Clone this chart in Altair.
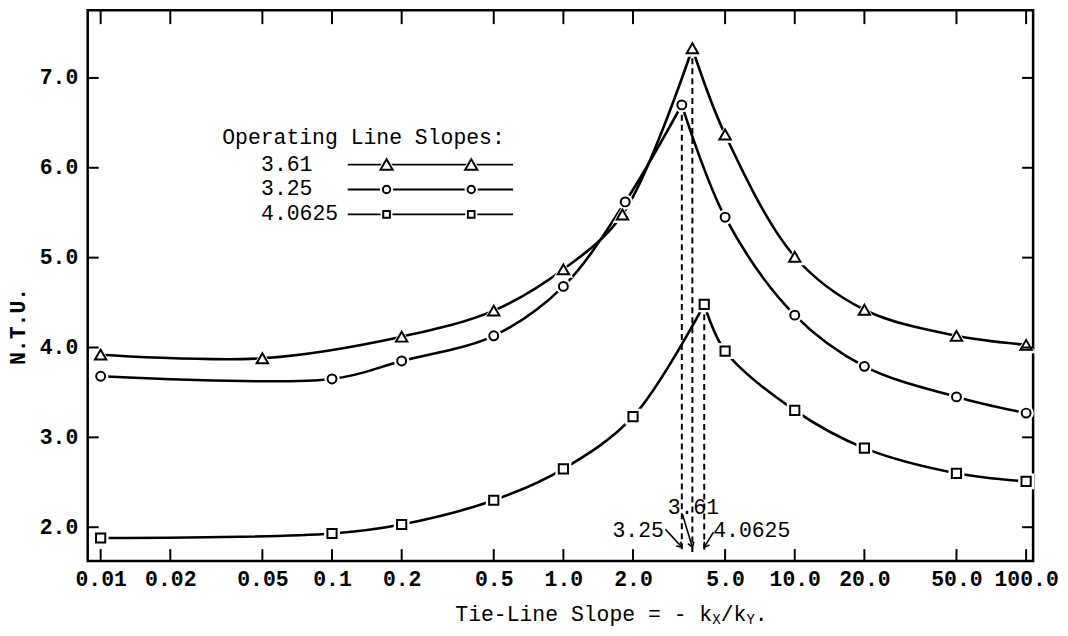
import altair as alt
import pandas as pd

# ---------------- data ----------------
series_names = ["3.61", "3.25", "4.0625"]
peak_x = [3.61, 3.25, 4.0625]

x_tri = [0.01, 0.05, 0.2, 0.5, 1.0, 1.8, 3.61, 5.0, 10.0, 20.0, 50.0, 100.0]
y_tri = [3.92, 3.88, 4.12, 4.41, 4.87, 5.48, 7.33, 6.37, 5.01, 4.42, 4.13, 4.03]

x_cir = [0.01, 0.1, 0.2, 0.5, 1.0, 1.85, 3.25, 5.0, 10.0, 20.0, 50.0, 100.0]
y_cir = [3.68, 3.65, 3.85, 4.13, 4.68, 5.62, 6.70, 5.45, 4.36, 3.79, 3.45, 3.27]

x_sq = [0.01, 0.1, 0.2, 0.5, 1.0, 2.0, 4.0625, 5.0, 10.0, 20.0, 50.0, 100.0]
y_sq = [1.88, 1.93, 2.03, 2.30, 2.65, 3.23, 4.48, 3.96, 3.30, 2.88, 2.60, 2.51]

x_ticks = [0.01, 0.02, 0.05, 0.1, 0.2, 0.5, 1, 2, 5, 10, 20, 50, 100]
y_ticks = [2, 3, 4, 5, 6, 7]

# annotation arrows / labels near the bottom (data coordinates)
arrow_from_x = [3.27, 2.76, 4.45]
arrow_from_y = [2.144, 1.978, 1.944]
arrow_to_y = [1.778, 1.778, 1.778]
label_y = [2.21, 1.956, 1.956]

# ---------------- tables ----------------
xs_all = [x_tri, x_cir, x_sq]
ys_all = [y_tri, y_cir, y_sq]
rows, pts = [], []
for name, xs_, ys_, pk in zip(series_names, xs_all, ys_all, peak_x):
    for xv, yv in zip(xs_, ys_):
        pts.append(dict(series=name, x=xv, y=yv))
        if xv <= pk:
            rows.append(dict(series=name, seg=name + "L", x=xv, y=yv))
        if xv >= pk:
            rows.append(dict(series=name, seg=name + "R", x=xv, y=yv))
lines_df = pd.DataFrame(rows)
pts_df = pd.DataFrame(pts)
peak_y = [ys_[xs_.index(pk)] for xs_, ys_, pk in zip(xs_all, ys_all, peak_x)]
dash_df = pd.DataFrame({"x": peak_x, "y": peak_y})
arrow_df = pd.DataFrame({"x": arrow_from_x, "y": arrow_from_y, "x2": peak_x, "y2": arrow_to_y,
                         "ang": [342, 315, 35]})

# ---------------- styling ----------------
W, H = 949, 553
FONT = "Liberation Mono"
FS = 21.5
xscale = alt.Scale(type="log", domain=[0.00879, 107.2], nice=False)
yscale = alt.Scale(domain=[1.623, 7.754], nice=False, zero=False)

x_axis = alt.Axis(values=x_ticks, title=None, domain=False, ticks=False, tickSize=0, grid=False,
                  labelExpr="datum.value >= 1 ? format(datum.value, '.1f') : format(datum.value, '~g')",
                  labelFont=FONT, labelFontSize=FS, labelFontWeight="bold", labelColor="black",
                  labelPadding=8, labelOverlap=False, labelFlush=False)
y_axis = alt.Axis(values=y_ticks, format=".1f", title="N.T.U.", titleAngle=270, titleX=-69, titleY=317,
                  titleFont=FONT, titleFontSize=FS, titleFontWeight="bold", titleColor="black",
                  titleAlign="center", titleBaseline="middle",
                  domain=False, ticks=False, tickSize=0, grid=False,
                  labelFont=FONT, labelFontSize=FS, labelFontWeight="bold", labelColor="black",
                  labelPadding=10)

X = alt.X("x:Q", scale=xscale, axis=x_axis)
Y = alt.Y("y:Q", scale=yscale, axis=y_axis)

lines = alt.Chart(lines_df).mark_line(interpolate="catmull-rom", color="black", strokeWidth=2.6).encode(
    x=X, y=Y, detail="seg:N", order="x:Q")

dashes = alt.Chart(dash_df).mark_rule(color="black", strokeWidth=2, strokeDash=[6, 4]).encode(
    x=X, y=Y, y2=alt.value(H - 9))

marker_shapes = ["triangle-up", "circle", "square"]
marker_sizes = [130, 80, 85]
point_layers = []
for name, shp, sz in zip(series_names, marker_shapes, marker_sizes):
    sub = pts_df[pts_df.series == name]
    point_layers.append(alt.Chart(sub).mark_point(shape=shp, filled=True, color="white", size=sz * 3.0,
                                                  opacity=1).encode(x=X, y=Y))
for name, shp, sz in zip(series_names, marker_shapes, marker_sizes):
    sub = pts_df[pts_df.series == name]
    point_layers.append(alt.Chart(sub).mark_point(shape=shp, filled=True, fill="white", stroke="black",
                                                  strokeWidth=2, size=sz, opacity=1).encode(x=X, y=Y))

# inward ticks on all four sides
tx = pd.DataFrame({"x": x_ticks})
ty = pd.DataFrame({"y": y_ticks})
rule = dict(color="black", strokeWidth=2)
t_bottom = alt.Chart(tx).mark_rule(**rule).encode(x=X, y=alt.value(H), y2=alt.value(H - 12))
t_top = alt.Chart(tx).mark_rule(**rule).encode(x=X, y=alt.value(0), y2=alt.value(14))
t_left = alt.Chart(ty).mark_rule(**rule).encode(y=Y, x=alt.value(0), x2=alt.value(11))
t_right = alt.Chart(ty).mark_rule(**rule).encode(y=Y, x=alt.value(W), x2=alt.value(W - 11))

# annotation arrows and labels
arrows = alt.Chart(arrow_df).mark_rule(color="black", strokeWidth=1.6).encode(
    x=X, y=Y, x2="x2:Q", y2="y2:Q")
heads = alt.Chart(arrow_df).mark_point(shape="M-1,-1.5L0,0L1,-1.5", filled=False, color="black",
                                       strokeWidth=1.6, size=40, opacity=1).encode(
    x=alt.X("x2:Q", scale=xscale, axis=x_axis), y=alt.Y("y2:Q", scale=yscale, axis=y_axis),
    angle=alt.Angle("ang:Q", scale=None))

ann = pd.DataFrame({"label": series_names, "x": peak_x, "y": label_y})
tstyle = dict(font=FONT, fontSize=FS, color="black", baseline="middle")
ann_361 = alt.Chart(ann.iloc[[0]]).mark_text(align="center", dx=1, **tstyle).encode(x=X, y=Y, text="label:N")
ann_325 = alt.Chart(ann.iloc[[1]]).mark_text(align="right", dx=-18, **tstyle).encode(x=X, y=Y, text="label:N")
ann_406 = alt.Chart(ann.iloc[[2]]).mark_text(align="left", dx=9, **tstyle).encode(x=X, y=Y, text="label:N")

one = pd.DataFrame({"k": [0]})


def txt(s, x, y, size=FS, align="left"):
    return alt.Chart(one).mark_text(text=s, font=FONT, fontSize=size, align=align, baseline="middle",
                                    color="black").encode(x=alt.value(x), y=alt.value(y))


# x-axis title with subscripts
ty0 = 607
cw = 0.6 * FS
cws = 0.6 * 14
x0 = 369
title_parts = [
    txt("Tie-Line Slope = - k", x0, ty0),
    txt("X", x0 + 20 * cw, ty0 + 5, size=14),
    txt("/k", x0 + 20 * cw + cws, ty0),
    txt("Y", x0 + 22 * cw + cws, ty0 + 5, size=14),
    txt(".", x0 + 22 * cw + 2 * cws, ty0),
]

# legend block
leg_y = [155, 180, 205]
legend_parts = [txt("Operating Line Slopes:", 135, 128)]
leg_sizes = [150, 55, 45]
for name, ly, shp, sz in zip(series_names, leg_y, marker_shapes, leg_sizes):
    legend_parts.append(txt(name, 174, ly))
    legend_parts.append(alt.Chart(one).mark_rule(color="black", strokeWidth=1.8).encode(
        x=alt.value(261), x2=alt.value(427), y=alt.value(ly)))
    for mx in (300, 385):
        legend_parts.append(alt.Chart(one).mark_point(shape=shp, filled=True, color="white", size=sz * 3.2,
                                                      opacity=1).encode(x=alt.value(mx), y=alt.value(ly)))
        legend_parts.append(alt.Chart(one).mark_point(shape=shp, filled=True, fill="white", stroke="black",
                                                      strokeWidth=2, size=sz, opacity=1).encode(
            x=alt.value(mx), y=alt.value(ly)))

chart = alt.layer(
    lines, dashes, *point_layers, t_bottom, t_top, t_left, t_right,
    arrows, heads, ann_361, ann_325, ann_406, *title_parts, *legend_parts
).properties(
    width=W, height=H,
    padding={"left": 80, "top": 1, "right": 27, "bottom": 66},
    autosize=alt.AutoSizeParams(type="none"),
    background="white",
).configure_view(stroke="black", strokeWidth=2.5)

chart.save("out.html", embed_options={"renderer": "svg", "actions": False})
